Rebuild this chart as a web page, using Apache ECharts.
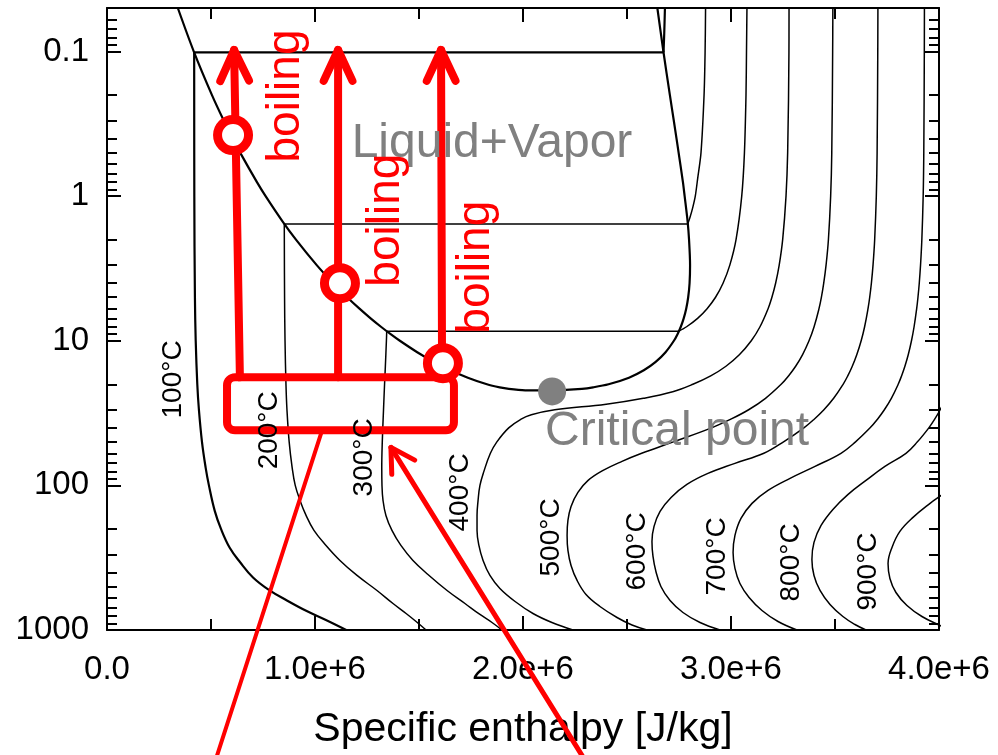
<!DOCTYPE html>
<html>
<head>
<meta charset="utf-8">
<title>Pressure-enthalpy diagram of water</title>
<script src="https://cdn.jsdelivr.net/npm/echarts@6/dist/echarts.min.js"></script>
<style>
  html, body { margin: 0; padding: 0; background: #fff; }
  #chart { width: 998px; height: 755px; }
</style>
</head>
<body>
<div id="chart"></div>
<script>
// ---- axis ticks ----
const pressureMajor = [0.1, 1, 10, 100, 1000];
const pressureMinor = [0.06, 0.07, 0.08, 0.09,
  0.2, 0.3, 0.4, 0.5, 0.6, 0.7, 0.8, 0.9,
  2, 3, 4, 5, 6, 7, 8, 9,
  20, 30, 40, 50, 60, 70, 80, 90,
  200, 300, 400, 500, 600, 700, 800, 900];

// ---- saturation dome: [enthalpy kJ/kg, pressure MPa] ----
const satLiquid = [[340.5,0.05],[417.4,0.1],[504.7,0.2],[561.4,0.3],[604.7,0.4],[640.1,0.5],[720.9,0.8],[762.5,1],
  [844.6,1.5],[908.5,2],[1008.3,3],[1087.4,4],[1154.5,5],[1213.9,6],[1267.4,7],[1317.1,8],[1363.7,9],[1408,10],
  [1491.5,12],[1571.6,14],[1650.4,16],[1734.8,18],[1826.6,20],[1888,21],[1932,21.5],[2011,22],[2087.5,22.064]];
const satVapor = [[2087.5,22.064],[2165,22],[2283,21.5],[2337,21],[2411.4,20],[2509.5,18],[2580.8,16],[2637.9,14],
  [2685.4,12],[2725.5,10],[2742.9,9],[2758.7,8],[2772.6,7],[2784.6,6],[2794.2,5],[2800.8,4],[2803.2,3],[2798.3,2],
  [2791.5,1.5],[2777.1,1],[2768.9,0.8],[2748.1,0.5],[2738.1,0.4],[2724.9,0.3],[2706.2,0.2],[2675,0.1],[2645.9,0.05]];

// ---- isotherms below the critical temperature (vapour branch, liquid branch) ----
const iso100Vapor = [[2682.4,0.05],[2679.0,0.075],[2675.6,0.1014]];
const iso100Liquid = [[419.1,0.1014],[419.8,1],[422.7,5],[426.5,10],[434.1,20],[441.9,30],[456.6,50],[474,75],[490,100],
  [518,150],[548,200],[590,270],[640,340],[702,433],[780,530],[865,625],[960,740],[1050,850],[1150,1000]];
const iso200Vapor = [[2877.7,0.05],[2875.5,0.1],[2870.5,0.2],[2855.8,0.5],[2840,0.75],[2828.3,1.0],[2816,1.2],[2803,1.4],[2792.0,1.555]];
const iso200Liquid = [[852.3,1.555],[853.7,5],[855.9,10],[860.4,20],[865.2,30],[875.8,50],[890,75],[905,100],[928,127],
  [957,161.3],[995,204.8],[1053,260.2],[1120,330.4],[1202,419.6],[1298,533],[1375,655.8],[1438,768.9],[1486,873.3],[1534,1000]];
const iso300Vapor = [[3076.7,0.05],[3074.5,0.1],[3072.1,0.2],[3064.6,0.5],[3051.6,1],[3024.2,2],[2994.3,3],[2961.7,4],
  [2925.7,5],[2885,6],[2839.4,7],[2786.5,8],[2749.6,8.588]];
const iso300Liquid = [[1344.8,8.588],[1343.3,10],[1338.3,15],[1334.4,20],[1329.4,30],[1323.5,50],[1321,75],[1322,100],
  [1327,127],[1341,161.3],[1370,204.8],[1413,260.2],[1471,330.4],[1543,413],[1635,533],[1721,655.8],[1793,781.1],
  [1851,887.4],[1899,1000]];

// ---- supercritical isotherms ----
const iso400 = [[3279.0,0.05],[3278.6,0.1],[3272.4,0.5],[3264.5,1],[3248.4,2],[3231.7,3],[3214.5,4],[3196.7,5],[3178.3,6],
  [3139.4,8],[3097.5,10],[3040,12.5],[2975.7,15],[2902.4,17.5],[2816.9,20],[2720,22.5],[2578.7,25],[2400,27.5],[2152.8,30],
  [2040,32.5],[1988.6,35],[1931.4,40],[1874.4,50],[1843.2,60],[1812,80],[1793,100],[1784,127],[1779,161.3],[1779,204.8],
  [1788,260.2],[1808,330.4],[1841,419.6],[1889,516.2],[1962,635.2],[2048,768.9],[2139,887.4],[2240,1000]];
const iso500 = [[3489.7,0.05],[3488.7,0.1],[3484.5,0.5],[3479.1,1],[3468.3,2],[3457,3],[3445.8,4],[3434.7,5],[3423.1,6],
  [3399.5,8],[3375.1,10],[3343.6,12.5],[3310.8,15],[3276.5,17.5],[3241.1,20],[3165.9,25],[3084.8,30],[2996.8,35],
  [2906.5,40],[2723,50],[2570.6,60],[2476,68.2],[2385,78.8],[2313,92.4],[2264,111.8],[2231,139.8],[2216,174.7],
  [2212,221.8],[2216,281.8],[2231,357.8],[2260,454.3],[2303,568],[2370,687.8],[2452,819.3],[2524,923.5],[2596,1000]];
const iso600 = [[3706.3,0.05],[3705.6,0.1],[3702.5,0.5],[3698.6,1],[3690.7,2],[3682.8,3],[3674.9,4],[3666.9,5],[3658.7,6],
  [3642.4,8],[3625.8,10],[3604.6,12.5],[3583.1,15],[3561.3,17.5],[3539,20],[3493.5,25],[3446.8,30],[3398.7,35],
  [3350.4,40],[3252.6,50],[3158,60],[3019,70.4],[2889,82.6],[2788,98.4],[2712,121.1],[2659,151.3],[2630,192.2],
  [2620,244.1],[2625,310],[2639,393.8],[2663,500],[2707,625.2],[2769,756.8],[2851,887.4],[2947,1000]];
const iso700 = [[3929.9,0.05],[3929.4,0.1],[3926.9,0.5],[3923.9,1],[3917.5,2],[3911.2,3],[3905.1,4],[3898.9,5],[3892.7,6],
  [3880.2,8],[3867.7,10],[3852.1,12.5],[3836.1,15],[3819.9,17.5],[3803.8,20],[3770.9,25],[3737.4,30],[3703.4,35],
  [3668.8,40],[3598.7,50],[3528.7,60],[3404,73.9],[3284,89.4],[3178,108.3],[3101,133.2],[3048,169.2],[3019,221.8],
  [3010,290.9],[3019,375.3],[3043,476.8],[3087,596.1],[3149,733.1],[3226,873.3],[3317,1000]];
const iso800 = [[4032.4,25],[4005.6,30],[3978.6,35],[3951.2,40],[3896.3,50],[3841.2,60],[3740,73.9],[3649,92.4],
  [3563,115.4],[3490,146.6],[3433,189.2],[3399,248],[3389,325.2],[3399,419.6],[3428,533],[3476,666.2],[3538,806.4],
  [3596,916.1],[3649,1000]];
const iso900 = [[4060,100],[4029,111.8],[3957,133.2],[3875,166.5],[3812,208.1],[3774,268.6],[3755,346.6],[3764,440.2],
  [3793,550.3],[3846,676.9],[3918,806.4],[4005,930.9],[4040,980]];

// ---- isotherm labels: [text, enthalpy kJ/kg, pressure MPa] ----
const isothermLabels = [['100°C',317,18.5],['200°C',779,41.6],['300°C',1236,64.0],['400°C',1697,111.8],
  ['500°C',2135,229],['600°C',2548,286],['700°C',2933,310],['800°C',3288,341],['900°C',3659,394]];

// ---- boiling annotation (enthalpy kJ/kg, pressure MPa) ----
const boilingArrows = [[[639,17.9],[611,0.0976]], [[1111,17.9],[1111,0.0976]], [[1611,17.9],[1606,0.0976]]];
const boilingPoints = [[606,0.378],[1120,4.0],[1615,14.3]];
const boilingLabels = [[861,0.203],[1341,1.466],[1774,3.10]];
const heaterBox = [[577,17.9],[1668,41.6]];
const pointerLine = [[1034,41.6],[529,7385]];
const pointerArrow = [[1365,54.6],[2284,7385]];
const criticalPoint = [2140,22.4];
const criticalLabel = [2106,42.8];
const twoPhaseLabel = [1851,0.436];

const FONT = '"Liberation Sans", Arial, Helvetica, sans-serif';
const RED = '#ff0000';
const GRAY = '#808080';

function toJ(arr) { return arr.map(p => [p[0] * 1000, p[1]]); }
function curve(data, width, smooth) {
  return {
    type: 'line', data: toJ(data), symbol: 'none', showSymbol: false, smooth: smooth,
    lineStyle: { color: '#000', width: width }, silent: true, animation: false, z: 2
  };
}

const series = [];
// saturation dome
series.push(curve(satLiquid.concat(satVapor.slice(1)), 2.2, 0.3));
// subcritical isotherms: vapour branch, flat two-phase segment, liquid branch
[[iso100Vapor, iso100Liquid, 2.2], [iso200Vapor, iso200Liquid, 1.5], [iso300Vapor, iso300Liquid, 1.5]].forEach(([v, l, w]) => {
  series.push(curve(v, w, 0.3));
  series.push(curve([v[v.length - 1], l[0]], w, false));
  series.push(curve(l, w, 0.4));
});
[iso400, iso500, iso600, iso700, iso800, iso900].forEach(d => series.push(curve(d, 1.5, 0.4)));

const tickStyle = { color: '#000', width: 2 };
function xAxisDef(pos, showLabel) {
  return {
    type: 'value', position: pos, min: 0, max: 4e6, interval: 1e6,
    axisLine: { show: true, onZero: false, lineStyle: { color: '#000', width: 2 } },
    axisTick: { show: true, inside: true, length: 14, lineStyle: tickStyle },
    minorTick: { show: true, splitNumber: 2, length: 11, lineStyle: tickStyle },
    splitLine: { show: false }, minorSplitLine: { show: false },
    axisLabel: {
      show: showLabel, fontSize: 33, color: '#000', fontFamily: FONT, margin: 23,
      formatter: v => v === 0 ? '0.0' : (v / 1e6).toFixed(1) + 'e+6'
    },
    name: showLabel ? 'Specific enthalpy [J/kg]' : '',
    nameLocation: 'middle', nameGap: 79,
    nameTextStyle: { fontSize: 41, color: '#000', fontFamily: FONT }
  };
}
function yAxisDef(pos, major) {
  return {
    type: 'log', logBase: 10, inverse: true, min: 0.05, max: 1000, position: pos,
    axisLine: { show: major, onZero: false, lineStyle: { color: '#000', width: 2 } },
    axisTick: { show: true, inside: true, length: major ? 14 : 10,
      customValues: major ? pressureMajor : pressureMinor, lineStyle: tickStyle },
    splitLine: { show: false }, minorTick: { show: false },
    axisLabel: {
      show: major && pos === 'left', customValues: pressureMajor,
      fontSize: 33, color: '#000', fontFamily: FONT, margin: 18,
      formatter: v => String(v)
    }
  };
}

const option = {
  backgroundColor: '#fff',
  animation: false,
  grid: { left: 107, right: 59, top: 8, bottom: 125, containLabel: false, outerBoundsMode: 'none' },
  xAxis: [xAxisDef('bottom', true), xAxisDef('top', false)],
  yAxis: [yAxisDef('left', true), yAxisDef('left', false), yAxisDef('right', true), yAxisDef('right', false)],
  series: series
};

const chart = echarts.init(document.getElementById('chart'), null, { renderer: 'canvas' });
chart.setOption(option);

// ---- annotations placed through the chart's own coordinate system ----
const px = (pt) => chart.convertToPixel({ xAxisIndex: 0, yAxisIndex: 0 }, [pt[0] * 1000, pt[1]]);
const g = [];
function seg(a, b, width) {
  return { type: 'polyline', z: 100, shape: { points: [a, b] },
    style: { stroke: RED, lineWidth: width, fill: 'none', lineCap: 'round', lineJoin: 'round' } };
}
function head(tip, tail, len, deg, width) {
  const dx = tail[0] - tip[0], dy = tail[1] - tip[1], d = Math.hypot(dx, dy);
  const ux = dx / d, uy = dy / d, a = deg * Math.PI / 180;
  const arm = s => [tip[0] + len * (ux * Math.cos(s) - uy * Math.sin(s)), tip[1] + len * (ux * Math.sin(s) + uy * Math.cos(s))];
  return { type: 'polyline', z: 100, shape: { points: [arm(a), tip, arm(-a)] },
    style: { stroke: RED, lineWidth: width, fill: 'none', lineCap: 'round', lineJoin: 'round' } };
}
function label(text, pos, size, color, rot, align) {
  return { type: 'text', z: 101, x: pos[0], y: pos[1], rotation: rot,
    style: { text: text, fontSize: size, fontFamily: FONT, fill: color, align: align || 'center', verticalAlign: 'middle' } };
}

// heater box
const b0 = px(heaterBox[0]), b1 = px(heaterBox[1]);
g.push({ type: 'rect', z: 100, shape: { x: b0[0], y: b0[1], width: b1[0] - b0[0], height: b1[1] - b0[1], r: 8 },
  style: { stroke: RED, lineWidth: 8, fill: 'none' } });
// boiling arrows
boilingArrows.forEach(([from, to]) => {
  const a = px(from), b = px(to);
  g.push(seg(a, b, 8));
  g.push(head(b, a, 34, 25, 8));
});
// boiling points on the saturated-liquid line
boilingPoints.forEach(p => {
  const c = px(p);
  g.push({ type: 'circle', z: 101, shape: { cx: c[0], cy: c[1], r: 15.5 }, style: { fill: '#fff', stroke: RED, lineWidth: 9 } });
});
// pointer lines
g.push(seg(px(pointerLine[0]), px(pointerLine[1]), 4));
const pa = px(pointerArrow[0]), pb = px(pointerArrow[1]);
g.push(seg(pa, pb, 5));
g.push(head(pa, pb, 27, 30, 5));

// critical point
const cp = px(criticalPoint);
g.push({ type: 'circle', z: 99, shape: { cx: cp[0], cy: cp[1], r: 14 }, style: { fill: GRAY } });
g.push(label('Critical point', px(criticalLabel), 48, GRAY, 0, 'left'));
g.push(label('Liquid+Vapor', px(twoPhaseLabel), 48, GRAY, 0, 'center'));
boilingLabels.forEach(p => g.push(label('boiling', px(p), 46, RED, Math.PI / 2)));
isothermLabels.forEach(([t, h, p]) => g.push(label(t, px([h, p]), 28, '#000', Math.PI / 2)));

chart.setOption({ graphic: g });
</script>
</body>
</html>
